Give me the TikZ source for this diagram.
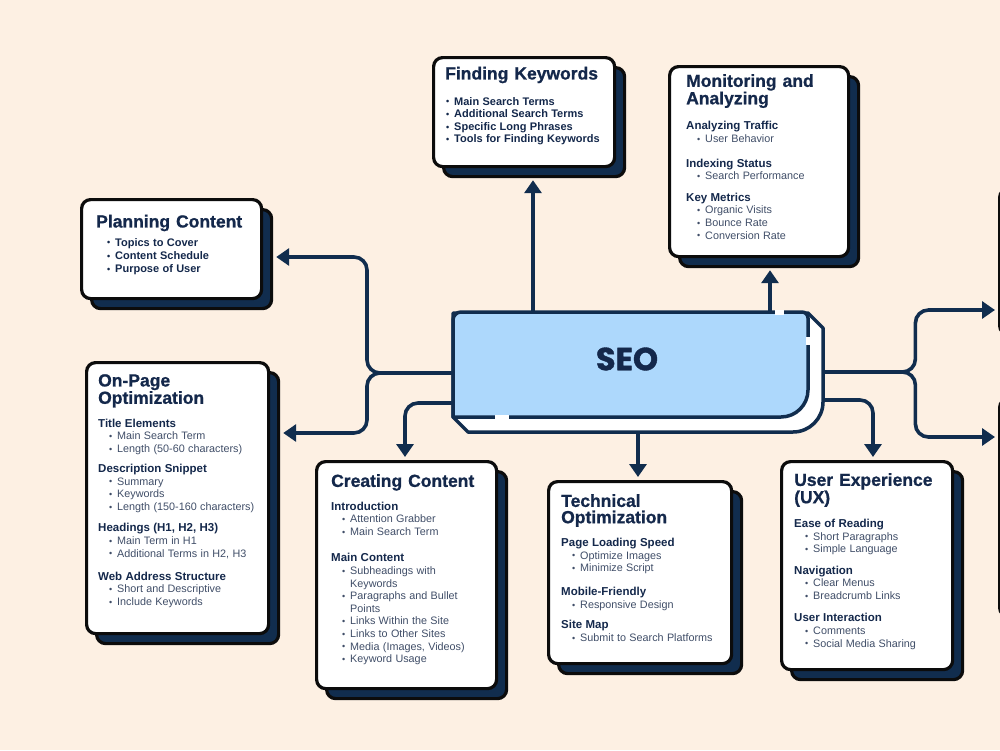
\documentclass[tikz,border=0pt]{standalone}
\usepackage{fontspec}
\setmainfont{Liberation Sans}
\newfontfamily\titlefont{Liberation Sans}[BoldFeatures={FakeBold=0.9}]
\newfontfamily\seofont{Poppins}[BoldFeatures={FakeBold=1.2}]
\usetikzlibrary{arrows.meta,calc,shadows}

\definecolor{bg}{HTML}{FDF0E3}
\definecolor{navy}{HTML}{112D4E}
\definecolor{ink}{HTML}{0C0C0C}
\definecolor{seoblue}{HTML}{ADD8FC}
\definecolor{headc}{HTML}{14284B}
\definecolor{itemc}{HTML}{404E68}

% text helpers for the cards
\newcommand\cardtitle[1]{{\titlefont\fontsize{17.5}{16.3}\selectfont\bfseries\color{headc}\spaceskip=6pt plus 1pt\noindent #1\par}}
\newcommand\cardsub[1]{{\fontsize{11.5}{12.6}\selectfont\bfseries\color{headc}\noindent #1\par}}
\newcommand\dotmark{\raisebox{0.2pt}{\fontsize{9}{9}\selectfont\textbullet}}
\newcommand\carditem[2][19pt]{{\fontsize{10.8}{12.6}\selectfont\color{itemc}\leftskip=#1\noindent\llap{\dotmark\hspace{5pt}}#2\par}}
\newcommand\cardbitem[3][9pt]{{\fontsize{11}{#2}\selectfont\bfseries\color{headc}\leftskip=#1\noindent\llap{\dotmark\hspace{5pt}}#3\par}}

\begin{document}
\begin{tikzpicture}[x=1pt,y=-1pt,
  card/.style={draw=ink, line width=3.2pt, fill=white, rounded corners=9pt,
    inner sep=0pt, anchor=north west,
    general shadow={shadow xshift=10pt, shadow yshift=-10pt, fill=navy, draw=ink, line width=3.2pt}},
  cardtext/.style={anchor=north west, inner sep=0pt, align=left, text width=#1},
  conn/.style={draw=navy, line width=3.6pt, rounded corners=13pt, line cap=butt,
    -{Triangle[length=13pt,width=17pt]}},
  seoline/.style={draw=navy, line width=3.5pt, line join=round},
  gap/.style={draw=white, line width=5pt}
]
\useasboundingbox (0,0) rectangle (1000,750);
\clip (0,0) rectangle (1000,750);
\fill[bg] (0,0) rectangle (1000,750);

% ---------- cards ----------
\node[card, minimum width=181, minimum height=109] (fk) at (432,56) {};
\node[card, minimum width=179, minimum height=190] (ma) at (668,65) {};
\node[card, minimum width=180, minimum height=99] (pc) at (80,198) {};
\node[card, minimum width=182, minimum height=271] (op) at (85,361) {};
\node[card, minimum width=180, minimum height=227] (cc) at (315,460) {};
\node[card, minimum width=183, minimum height=182] (tech) at (547,480) {};
\node[card, minimum width=171, minimum height=208] (ux) at (780,460) {};
\node[card, minimum width=150, minimum height=146] (rb1) at (998,187) {};
\node[card, minimum width=150, minimum height=218] (rb2) at (998,397) {};

% ---------- card texts ----------
\node[cardtext=170] (fk-t) at ($(fk.north west)+(13,10.6)$) {%
  \cardtitle{Finding Keywords}\vspace{13pt}
  \cardbitem{12.6}{Main Search Terms}
  \cardbitem{12.6}{Additional Search Terms}
  \cardbitem{12.6}{Specific Long Phrases}
  \cardbitem{12.6}{Tools for Finding Keywords}};

\node[cardtext=160] (ma-t) at ($(ma.north west)+(18,9)$) {%
  \cardtitle{Monitoring and\newline Analyzing}\vspace{13pt}
  \cardsub{Analyzing Traffic}
  \carditem{User Behavior}\vspace{12pt}
  \cardsub{Indexing Status}
  \carditem{Search Performance}\vspace{9pt}
  \cardsub{Key Metrics}
  \carditem{Organic Visits}
  \carditem{Bounce Rate}
  \carditem{Conversion Rate}};

\node[cardtext=160] (pc-t) at ($(pc.north west)+(16,16.6)$) {%
  \cardtitle{Planning Content}\vspace{5.5pt}
  \cardbitem[19pt]{13.2}{Topics to Cover}
  \cardbitem[19pt]{13.2}{Content Schedule}
  \cardbitem[19pt]{13.2}{Purpose of User}};

\node[cardtext=168] (op-t) at ($(op.north west)+(13,13)$) {%
  \cardtitle{On-Page\newline Optimization}\vspace{10.8pt}
  \cardsub{Title Elements}
  \carditem{Main Search Term}
  \carditem{Length (50-60 characters)}\vspace{7.4pt}
  \cardsub{Description Snippet}
  \carditem{Summary}
  \carditem{Keywords}
  \carditem{Length (150-160 characters)}\vspace{9pt}
  \cardsub{Headings (H1, H2, H3)}
  \carditem{Main Term in H1}
  \carditem{Additional Terms in H2, H3}\vspace{10.7pt}
  \cardsub{Web Address Structure}
  \carditem{Short and Descriptive}
  \carditem{Include Keywords}};

\node[cardtext=165] (cc-t) at ($(cc.north west)+(16,14)$) {%
  \cardtitle{Creating Content}\vspace{10.7pt}
  \cardsub{Introduction}
  \carditem{Attention Grabber}
  \carditem{Main Search Term}\vspace{14pt}
  \cardsub{Main Content}
  \carditem{Subheadings with\newline Keywords}
  \carditem{Paragraphs and Bullet\newline Points}
  \carditem{Links Within the Site}
  \carditem{Links to Other Sites}
  \carditem{Media (Images, Videos)}
  \carditem{Keyword Usage}};

\node[cardtext=170] (tech-t) at ($(tech.north west)+(14,14)$) {%
  \cardtitle{Technical\newline Optimization}\vspace{10.8pt}
  \cardsub{Page Loading Speed}
  \carditem{Optimize Images}
  \carditem{Minimize Script}\vspace{11.4pt}
  \cardsub{Mobile-Friendly}
  \carditem{Responsive Design}\vspace{8pt}
  \cardsub{Site Map}
  \carditem{Submit to Search Platforms}};

\node[cardtext=160] (ux-t) at ($(ux.north west)+(14,13)$) {%
  \cardtitle{User Experience\newline (UX)}\vspace{11.7pt}
  \cardsub{Ease of Reading}
  \carditem{Short Paragraphs}
  \carditem{Simple Language}\vspace{8.7pt}
  \cardsub{Navigation}
  \carditem{Clear Menus}
  \carditem{Breadcrumb Links}\vspace{10pt}
  \cardsub{User Interaction}
  \carditem{Comments}
  \carditem{Social Media Sharing}};

% ---------- central node (frame only, shape drawn below) ----------
\node[minimum width=370, minimum height=120, inner sep=0pt, anchor=north west] (seo) at (453,312) {};

% ---------- connectors ----------
\draw[conn] ($(seo.north west)+(0,61)$) -- ++(-86,0) |- ($(pc.north east)+(13,59)$);
\draw[conn] ($(seo.north west)+(0,61)$) -- ++(-86,0) |- ($(op.north east)+(13,72)$);
\draw[conn] ($(seo.north west)+(0,91)$) -| ($(cc.north west)+(90,-3)$);
\draw[conn] ($(seo.north west)+(80,0)$) -- ($(fk.south west)+(101,12)$);
\draw[conn] ($(seo.north west)+(317,0)$) -- ($(ma.south west)+(102,12)$);
\draw[conn] ($(seo.south west)+(185,0)$) -- ($(tech.north west)+(91,-3)$);
\draw[conn] ($(seo.north east)+(0,88)$) -| ($(ux.north west)+(93,-3)$);
\draw[conn] ($(seo.north east)+(0,60)$) -- ++(92,0) |- ($(rb1.north west)+(-3,123)$);
\draw[conn] ($(seo.north east)+(0,60)$) -- ++(92,0) |- ($(rb2.north west)+(-3,40)$);

% ---------- SEO block: white back plate and blue face ----------
\filldraw[seoline, fill=white]
  (453,417) -- (468,432) -- (793,432) arc[start angle=90, end angle=0, radius=30]
  -- (823,328) -- (808,313) -- (453,313) -- cycle;
\filldraw[seoline, fill=seoblue]
  (453,417) -- (453,320) arc[start angle=180, end angle=270, radius=8]
  -- (802,312) arc[start angle=270, end angle=360, radius=6]
  -- (808,390) arc[start angle=0, end angle=90, radius=27]
  -- cycle;
% highlights breaking the outline
\draw[gap] (775,312) -- (784,312);
\draw[gap] (808,337) -- (808,345);
\draw[gap] (495,417) -- (509,417);
\node[font=\seofont\bfseries\fontsize{32}{32}\selectfont, text=headc, inner sep=0pt] (seo-t)
  at ($(seo.north west)+(174,47)$) {SEO};
\end{tikzpicture}
\end{document}
